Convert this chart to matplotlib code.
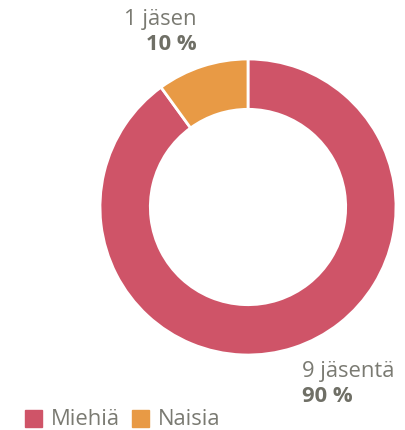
import matplotlib.pyplot as plt
from matplotlib.patches import Rectangle

labels = ["Miehiä", "Naisia"]
counts = [9, 1]
count_text = ["9 jäsentä", "1 jäsen"]
pct_text = ["90 %", "10 %"]
colors = ["#CF5468", "#E89A45"]

W, H = 405, 431
fig = plt.figure(figsize=(W / 100, H / 100), dpi=100)
plt.rcParams['font.family'] = ['Open Sans', 'DejaVu Sans']

# donut: center (248, 208), radius ~148 px
cx, cy, r = 248, 208, 148
ax = fig.add_axes([(cx - r) / W, 1 - (cy + r) / H, 2 * r / W, 2 * r / H])
ax.pie(counts, colors=colors, startangle=90, counterclock=False,
       radius=1.0, wedgeprops=dict(width=0.34, edgecolor="white", linewidth=2))
ax.set_xlim(-1, 1)
ax.set_ylim(-1, 1)
ax.set_aspect("equal")
ax.axis("off")

light = "#7A7A72"
dark = "#6F6F66"
fs = 15.8


def px(x, y):
    return x / W, 1 - y / H


# Naisia label (upper left)
fig.text(*px(197, 19), count_text[1], ha="right", va="center", fontsize=fs, color=light)
fig.text(*px(197, 45), pct_text[1], ha="right", va="center", fontsize=fs,
         color=dark, fontweight="bold")
# Miehiä label (lower right)
fig.text(*px(302, 372), count_text[0], ha="left", va="center", fontsize=fs, color=light)
fig.text(*px(302, 397), pct_text[0], ha="left", va="center", fontsize=fs,
         color=dark, fontweight="bold")

# legend
lx = [25, 132]
for i, lab in enumerate(labels):
    x0, y0 = px(lx[i], 428)
    fig.patches.append(Rectangle((x0, y0), 17 / W, 17 / H, transform=fig.transFigure,
                                 color=colors[i], figure=fig))
    fig.text(*px(lx[i] + 26, 420), lab, ha="left", va="center", fontsize=fs, color=light)

fig.savefig("out.png", dpi=100)
